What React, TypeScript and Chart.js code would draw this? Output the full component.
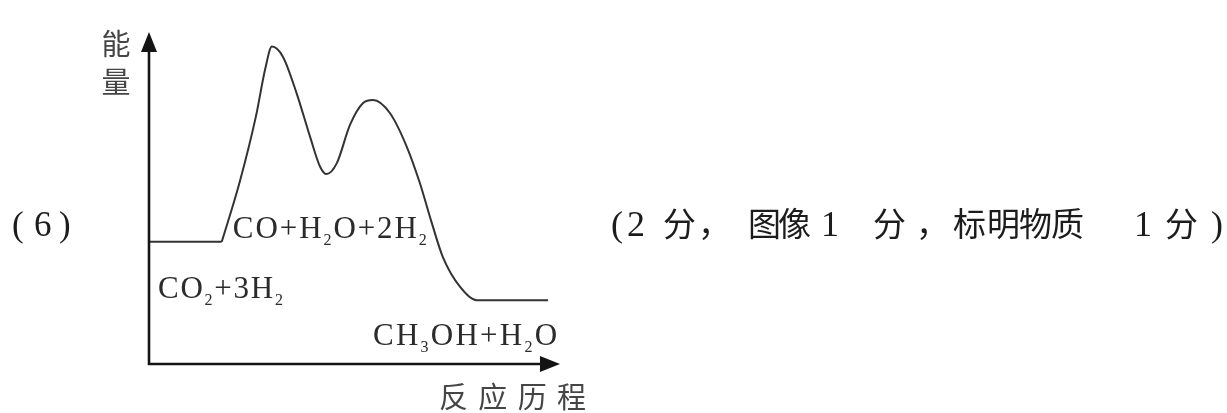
import React, { useEffect, useRef } from "react";
import { Chart, registerables } from "chart.js";

Chart.register(...registerables);

// ---- data (arbitrary units: reaction progress 0..100, energy 0..100) ----
const plateauProgress = [0, 17.7];
const plateauEnergy = [36.8, 36.8];

const pathProgress = [
  17.7, 22.0, 26.0, 28.3, 29.9, 32.6, 35.9, 39.2, 41.6, 43.2, 45.7, 48.9, 52.1,
  54.5, 58.6, 62.7, 65.9, 68.8, 71.5, 75.7, 79.7, 97.1,
];
const pathEnergy = [
  36.8, 54.5, 74.5, 89.0, 95.6, 92.5, 81.6, 68.4, 59.5, 57.2, 60.5, 72.0, 78.6,
  79.5, 75.6, 65.5, 54.5, 42.5, 32.2, 23.2, 19.2, 19.2,
];

// species labels ("_x" = subscript x)
const speciesLabels = ["CO_2+3H_2", "CO+H_2O+2H_2", "CH_3OH+H_2O"];
const yAxisTitle = ["能", "量"];
const xAxisTitle = "反应历程";
const partLabel = "(6)";
const scoreNote = "(2 分，图像 1 分，标明物质 1 分)";

// ---- helpers ----
const latin = (px: number) => `${px}px "Liberation Serif", "DejaVu Serif", serif`;
const cjk = (px: number) => `${px}px "Noto Sans CJK SC", sans-serif`;
const isLatin = (ch: string) => ch.charCodeAt(0) < 0x2000;

type Run = { ch: string; font: string; dy: number };

function formulaRuns(text: string, px: number, subPx: number, subDy: number): Run[] {
  const runs: Run[] = [];
  const chars = Array.from(text);
  for (let i = 0; i < chars.length; i++) {
    if (chars[i] === "_" && i + 1 < chars.length) {
      runs.push({ ch: chars[i + 1], font: latin(subPx), dy: subDy });
      i++;
    } else {
      runs.push({ ch: chars[i], font: latin(px), dy: 0 });
    }
  }
  return runs;
}

function drawSpaced(ctx: CanvasRenderingContext2D, runs: Run[], x0: number, x1: number, baseline: number) {
  const widths = runs.map((r) => {
    ctx.font = r.font;
    return ctx.measureText(r.ch).width;
  });
  const total = widths.reduce((a, b) => a + b, 0);
  const gap = runs.length > 1 ? (x1 - x0 - total) / (runs.length - 1) : 0;
  let x = x0;
  runs.forEach((r, i) => {
    ctx.font = r.font;
    ctx.fillText(r.ch, x, baseline + r.dy);
    x += widths[i] + gap;
  });
}

// glyph slots (left edges, px) for the non-space characters of the side texts
const partSlots = [12, 34, 59];
const noteSlots = [611, 627, 663, 698, 748, 778, 821, 873, 916, 953, 987, 1019, 1051, 1134, 1165, 1211];

function drawSlotted(ctx: CanvasRenderingContext2D, text: string, slots: number[], latinPx: number, cjkPx: number, baseline: number) {
  const chars = Array.from(text).filter((c) => c !== " ");
  chars.forEach((ch, i) => {
    ctx.font = isLatin(ch) ? latin(latinPx) : cjk(cjkPx);
    ctx.fillText(ch, slots[i], baseline);
  });
}

const decorPlugin = {
  id: "decor",
  afterDraw(chart: any) {
    const ctx: CanvasRenderingContext2D = chart.ctx;
    const { left, top, right, bottom } = chart.chartArea;
    const xs = chart.scales.x;
    const ys = chart.scales.y;
    ctx.save();

    // axes with arrows
    ctx.strokeStyle = "#141414";
    ctx.fillStyle = "#141414";
    ctx.lineWidth = 2.6;
    ctx.beginPath();
    ctx.moveTo(left, bottom + 1.3);
    ctx.lineTo(left, top + 14);
    ctx.moveTo(left - 1.3, bottom);
    ctx.lineTo(right - 14, bottom);
    ctx.stroke();
    ctx.beginPath();
    ctx.moveTo(left, top);
    ctx.lineTo(left - 8, top + 20);
    ctx.lineTo(left + 8, top + 20);
    ctx.closePath();
    ctx.fill();
    ctx.beginPath();
    ctx.moveTo(right, bottom);
    ctx.lineTo(right - 20, bottom - 8);
    ctx.lineTo(right - 20, bottom + 8);
    ctx.closePath();
    ctx.fill();

    ctx.textBaseline = "alphabetic";

    // axis titles
    ctx.fillStyle = "#454545";
    ctx.textAlign = "center";
    ctx.font = cjk(29);
    ctx.fillText(yAxisTitle[0], left - 33, top + 23);
    ctx.fillText(yAxisTitle[1], left - 33, top + 61);
    ctx.textAlign = "left";
    drawSpaced(ctx, Array.from(xAxisTitle).map((ch) => ({ ch, font: cjk(29), dy: 0 })), right - 121, right + 26, bottom + 44);

    // species labels (anchored in data units)
    ctx.fillStyle = "#2b2b2b";
    const anchors = [
      [2.2, 32.6, 19.9],
      [20.4, 67.6, 38.0],
      [54.5, 99.3, 5.7],
    ];
    speciesLabels.forEach((lab, i) => {
      const [a, b, y] = anchors[i];
      drawSpaced(ctx, formulaRuns(lab, 31, 16, 7), xs.getPixelForValue(a), xs.getPixelForValue(b), ys.getPixelForValue(y));
    });

    // side texts
    ctx.fillStyle = "#1c1c1c";
    drawSlotted(ctx, partLabel, partSlots, 35, 33, 236);
    drawSlotted(ctx, scoreNote, noteSlots, 36, 33, 236);

    ctx.restore();
  },
};

export default function App() {
  const ref = useRef<HTMLCanvasElement>(null);

  useEffect(() => {
    document.body.style.margin = "0";
    const canvas = ref.current!;
    const chart = new Chart(canvas, {
      type: "scatter",
      data: {
        datasets: [
          {
            label: "reactants",
            data: plateauProgress.map((x, i) => ({ x, y: plateauEnergy[i] })),
            showLine: true,
            borderColor: "#333",
            borderWidth: 2,
            pointRadius: 0,
            tension: 0,
          },
          {
            label: "path",
            data: pathProgress.map((x, i) => ({ x, y: pathEnergy[i] })),
            showLine: true,
            borderColor: "#333",
            borderWidth: 2,
            pointRadius: 0,
            cubicInterpolationMode: "monotone",
          },
        ],
      } as any,
      options: {
        responsive: false,
        animation: false,
        devicePixelRatio: 1,
        layout: { padding: { left: 149, right: 667, top: 32, bottom: 49 } },
        scales: {
          x: { type: "linear", min: 0, max: 100, display: false },
          y: { type: "linear", min: 0, max: 100, display: false },
        },
        plugins: { legend: { display: false }, tooltip: { enabled: false } },
        events: [],
      } as any,
      plugins: [decorPlugin],
    });
    return () => chart.destroy();
  }, []);

  return (
    <div style={{ width: 1227, height: 413, background: "#fff" }}>
      <canvas ref={ref} width={1227} height={413} style={{ display: "block", width: 1227, height: 413 }} />
    </div>
  );
}
